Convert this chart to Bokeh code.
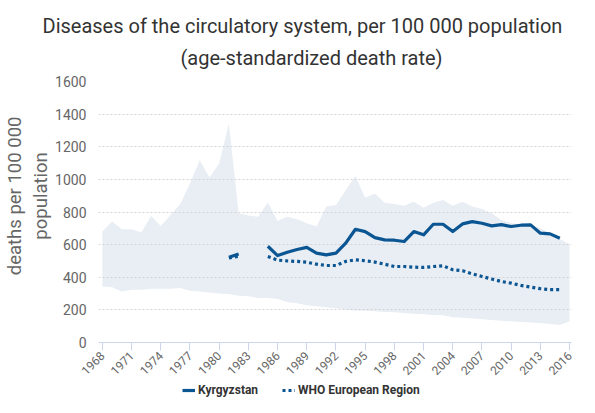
import math
from bokeh.plotting import figure
from bokeh.layouts import column
from bokeh.models import (ColumnDataSource, FixedTicker, Title, Legend, LegendItem, Range1d)
from bokeh.embed import file_html
from bokeh.resources import INLINE

NaN = float("nan")

years = [1968, 1969, 1970, 1971, 1972, 1973, 1974, 1975, 1976, 1977,
         1978, 1979, 1980, 1981, 1982, 1983, 1984, 1985, 1986, 1987,
         1988, 1989, 1990, 1991, 1992, 1993, 1994, 1995, 1996, 1997,
         1998, 1999, 2000, 2001, 2002, 2003, 2004, 2005, 2006, 2007,
         2008, 2009, 2010, 2011, 2012, 2013, 2014, 2015, 2016]

region_max = [680, 741, 694, 694, 674, 776, 714, 782, 849, 975,
              1117, 1012, 1097, 1341, 792, 778, 771, 859, 745, 771,
              755, 731, 711, 833, 843, 934, 1020, 888, 914, 857,
              849, 839, 863, 826, 857, 873, 839, 863, 833, 818,
              792, 751, 731, 727, 716, 700, 670, 635, 603]

region_min = [344, 338, 313, 324, 324, 330, 330, 330, 334, 318,
              313, 306, 300, 297, 287, 283, 273, 273, 267, 246,
              240, 228, 222, 216, 210, 202, 195, 195, 191, 187,
              185, 181, 177, 173, 169, 167, 155, 151, 147, 142,
              138, 134, 130, 126, 122, 120, 114, 108, 130]

kyrgyzstan = [NaN, NaN, NaN, NaN, NaN, NaN, NaN, NaN, NaN, NaN,
              NaN, NaN, NaN, 523, 542, NaN, NaN, 590, 533, 553,
              570, 583, 548, 537, 548, 609, 694, 680, 643, 629,
              627, 619, 680, 660, 725, 725, 680, 727, 741, 731,
              715, 723, 711, 719, 721, 670, 666, 639, NaN]

who_europe = [NaN, NaN, NaN, NaN, NaN, NaN, NaN, NaN, NaN, NaN,
              NaN, NaN, NaN, 518, 528, NaN, NaN, 527, 505, 500,
              497, 492, 480, 472, 472, 497, 507, 501, 493, 480,
              466, 466, 462, 460, 466, 470, 446, 440, 421, 405,
              389, 374, 364, 350, 340, 330, 324, 324, NaN]

x_ticks = [1968, 1971, 1974, 1977, 1980, 1983, 1986, 1989, 1992, 1995,
           1998, 2001, 2004, 2007, 2010, 2013, 2016]
y_ticks = [0, 200, 400, 600, 800, 1000, 1200, 1400, 1600]

title_lines = ["Diseases of the circulatory system, per 100 000 population",
               "(age-standardized death rate)"]
y_label_lines = ["deaths per 100 000", "population"]
series_names = ["Kyrgyzstan", "WHO European Region"]

FONT = "Roboto"
LINE = "#0b5592"
BAND = "#e8eef4"
W = 579
PAD = "\u00a0" * 7   # shifts the rotated axis title upwards, as in the original

src = ColumnDataSource(dict(year=years, lo=region_min, hi=region_max,
                            kg=kyrgyzstan, who=who_europe))

p = figure(width=W, height=382, output_backend="svg", toolbar_location=None,
           title=None,
           x_range=Range1d(1967.6, 2016.2), y_range=Range1d(0, 1600),
           min_border_left=85, min_border_right=8, min_border_top=0,
           min_border_bottom=40)
p.outline_line_color = None
p.background_fill_color = "white"

p.varea(x="year", y1="lo", y2="hi", source=src, fill_color=BAND, level="underlay")
p.line(x="year", y="kg", source=src, line_color=LINE, line_width=3.2,
       line_join="round", level="annotation")
p.line(x="year", y="who", source=src, line_color=LINE, line_width=3.2,
       line_dash="3 3", level="annotation")

# title lines (second line added first so it sits nearest the plot)
p.add_layout(Title(text=title_lines[1], align="left", text_font=FONT,
                   text_font_size="20px", text_font_style="normal",
                   text_color="#333333", standoff=24, offset=82), "above")
p.add_layout(Title(text=title_lines[0], align="left", text_font=FONT,
                   text_font_size="20px", text_font_style="normal",
                   text_color="#333333", standoff=-13, offset=-56), "above")
p.add_layout(Title(text=" ", align="left", text_font=FONT,
                   text_font_size="1px", standoff=15), "above")

# grid
p.xgrid.grid_line_color = None
p.ygrid.grid_line_color = "#d4d4d4"
p.ygrid.grid_line_dash = "2 2"
p.ygrid.level = "glyph"
p.ygrid.ticker = FixedTicker(ticks=y_ticks)

# x axis
xa = p.xaxis[0]
xa.ticker = FixedTicker(ticks=x_ticks)
xa.major_label_orientation = math.pi / 4
xa.axis_line_color = "#ccd6eb"
xa.major_tick_line_color = "#ccd6eb"
xa.major_tick_out = 8
xa.major_tick_in = 0
xa.minor_tick_line_color = None
xa.major_label_text_font = FONT
xa.major_label_text_font_size = "12px"
xa.major_label_text_color = "#666666"
xa.major_label_standoff = 3

# y axis
ya = p.yaxis[0]
ya.ticker = FixedTicker(ticks=y_ticks)
ya.axis_line_color = None
ya.major_tick_line_color = None
ya.minor_tick_line_color = None
ya.major_label_text_font = FONT
ya.major_label_text_font_size = "14px"
ya.major_label_text_color = "#666666"
ya.major_label_standoff = 6
ya.axis_label = "\n".join(PAD + s for s in y_label_lines)
ya.axis_label_text_font = FONT
ya.axis_label_text_font_size = "18.5px"
ya.axis_label_text_font_style = "normal"
ya.axis_label_text_color = "#666666"
ya.axis_label_standoff = 0

# legend strip below the chart (its lines use the same data, out of view)
q = figure(width=W, height=15, output_backend="svg", toolbar_location=None,
           title=None, x_axis_type=None, y_axis_type=None,
           x_range=Range1d(0, 1), y_range=Range1d(0, 1), min_border=0)
q.outline_line_color = None
q.xgrid.grid_line_color = None
q.ygrid.grid_line_color = None
r1 = q.line(x="year", y="kg", source=src, line_color=LINE, line_width=3.2)
r2 = q.line(x="year", y="who", source=src, line_color=LINE, line_width=3.2,
            line_dash="3 3")
legend = Legend(items=[LegendItem(label=series_names[0], renderers=[r1]),
                       LegendItem(label=series_names[1], renderers=[r2])],
                orientation="horizontal", location=(84, 0),
                border_line_alpha=0, background_fill_alpha=0,
                label_text_font=FONT, label_text_font_size="12px",
                label_text_font_style="bold", label_text_color="#333333",
                glyph_width=13, glyph_height=12, spacing=24, padding=0,
                margin=0, label_standoff=3, label_height=12)
q.add_layout(legend, "center")

layout = column(p, q, spacing=0)
open("out.html", "w").write(file_html(layout, INLINE))
